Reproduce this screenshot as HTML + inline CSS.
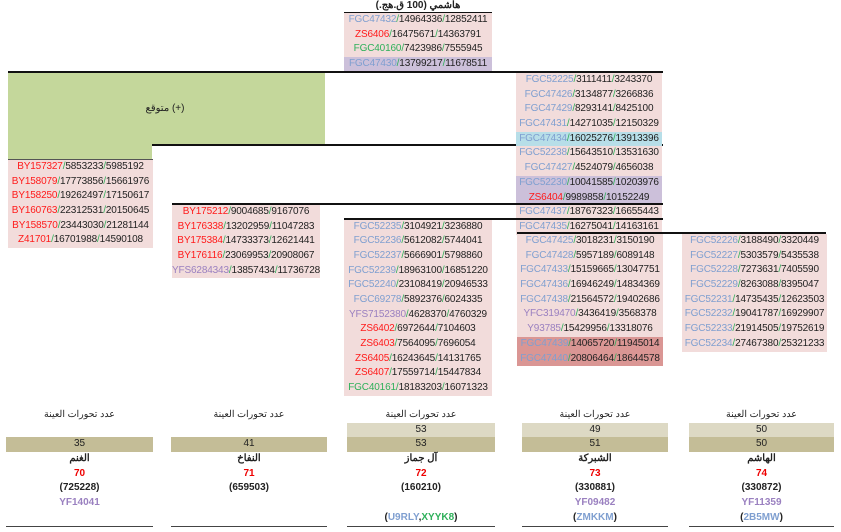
<!DOCTYPE html>
<html><head><meta charset="utf-8">
<style>
body{margin:0;width:841px;height:532px;background:#fff;position:relative;overflow:hidden;font-family:"Liberation Sans","Noto Sans CJK SC",sans-serif;font-size:10px;color:#222}
.b{position:absolute}
.r{height:14.7px;line-height:14.7px;text-align:center;white-space:nowrap;background:#f2dcdb;letter-spacing:-0.15px}
.p{background:#ccc0da}.cy{background:#b7dee8}.dk{background:#da9694}
.bl{color:#7f9fd0}.rd{color:#ff1a1a}.gr{color:#2eb05a}.pu{color:#9a80c0}
s{text-decoration:none;color:#2eb05a}
.ln{position:absolute;height:2px;background:#111}
.t{position:absolute;text-align:center;white-space:nowrap}
.bot{position:absolute;text-align:center}
.bot div{height:14.7px;line-height:14.7px}
</style></head><body>
<div class="t" style="left:344px;width:148px;top:0px;font-weight:bold">هاشمي (100 ق.هج.)</div>
<div class="ln" style="left:344px;width:148px;top:12px"></div>
<div class="b" style="left:344px;width:148px;top:13px">
<div class="r"><span class="bl">FGC47432</span><s>/</s>14964336<s>/</s>12852411</div>
<div class="r"><span class="rd">ZS6406</span><s>/</s>16475671<s>/</s>14363791</div>
<div class="r"><span class="gr">FGC40160</span><s>/</s>7423986<s>/</s>7555945</div>
<div class="r p"><span class="bl">FGC47430</span><s>/</s>13799217<s>/</s>11678511</div>
</div>
<div class="b" style="left:8px;width:317px;top:72px;height:73px;background:#c4d79b"></div>
<div class="b" style="left:8px;width:144px;top:145px;height:14px;background:#c4d79b"></div>
<div class="t" style="left:130px;width:70px;top:103px">متوقع (+)</div>
<div class="ln" style="left:8px;width:655px;top:71px"></div>
<div class="ln" style="left:152px;width:511px;top:144px"></div>
<div class="b" style="left:8px;width:145px;top:159px;height:1px;background:#555"></div>
<div class="b" style="left:516px;width:146px;top:73px">
<div class="r"><span class="bl">FGC52225</span><s>/</s>3111411<s>/</s>3243370</div>
<div class="r"><span class="bl">FGC47426</span><s>/</s>3134877<s>/</s>3266836</div>
<div class="r"><span class="bl">FGC47429</span><s>/</s>8293141<s>/</s>8425100</div>
<div class="r"><span class="bl">FGC47431</span><s>/</s>14271035<s>/</s>12150329</div>
<div class="r cy"><span class="bl">FGC47434</span><s>/</s>16025276<s>/</s>13913396</div>
<div class="r"><span class="bl">FGC52238</span><s>/</s>15643510<s>/</s>13531630</div>
<div class="r"><span class="bl">FGC47427</span><s>/</s>4524079<s>/</s>4656038</div>
<div class="r p"><span class="bl">FGC52230</span><s>/</s>10041585<s>/</s>10203976</div>
<div class="r p"><span class="rd">ZS6404</span><s>/</s>9989858<s>/</s>10152249</div>
<div class="r"><span class="bl">FGC47437</span><s>/</s>18767323<s>/</s>16655443</div>
<div class="r"><span class="bl">FGC47435</span><s>/</s>16275041<s>/</s>14163161</div>
</div>
<div class="ln" style="left:172px;width:491px;top:203px"></div>
<div class="ln" style="left:344px;width:319px;top:218px"></div>
<div class="ln" style="left:517px;width:309px;top:232px"></div>
<div class="b" style="left:8px;width:145px;top:160px">
<div class="r"><span class="rd">BY157327</span><s>/</s>5853233<s>/</s>5985192</div>
<div class="r"><span class="rd">BY158079</span><s>/</s>17773856<s>/</s>15661976</div>
<div class="r"><span class="rd">BY158250</span><s>/</s>19262497<s>/</s>17150617</div>
<div class="r"><span class="rd">BY160763</span><s>/</s>22312531<s>/</s>20150645</div>
<div class="r"><span class="rd">BY158570</span><s>/</s>23443030<s>/</s>21281144</div>
<div class="r"><span class="rd">Z41701</span><s>/</s>16701988<s>/</s>14590108</div>
</div>
<div class="b" style="left:172px;width:148px;top:205px">
<div class="r"><span class="rd">BY175212</span><s>/</s>9004685<s>/</s>9167076</div>
<div class="r"><span class="rd">BY176338</span><s>/</s>13202959<s>/</s>11047283</div>
<div class="r"><span class="rd">BY175384</span><s>/</s>14733373<s>/</s>12621441</div>
<div class="r"><span class="rd">BY176116</span><s>/</s>23069953<s>/</s>20908067</div>
<div class="r"><span class="pu">YFS6284343</span><s>/</s>13857434<s>/</s>11736728</div>
</div>
<div class="b" style="left:344px;width:148px;top:219.5px">
<div class="r"><span class="bl">FGC52235</span><s>/</s>3104921<s>/</s>3236880</div>
<div class="r"><span class="bl">FGC52236</span><s>/</s>5612082<s>/</s>5744041</div>
<div class="r"><span class="bl">FGC52237</span><s>/</s>5666901<s>/</s>5798860</div>
<div class="r"><span class="bl">FGC52239</span><s>/</s>18963100<s>/</s>16851220</div>
<div class="r"><span class="bl">FGC52240</span><s>/</s>23108419<s>/</s>20946533</div>
<div class="r"><span class="bl">FGC69278</span><s>/</s>5892376<s>/</s>6024335</div>
<div class="r"><span class="pu">YFS7152380</span><s>/</s>4628370<s>/</s>4760329</div>
<div class="r"><span class="rd">ZS6402</span><s>/</s>6972644<s>/</s>7104603</div>
<div class="r"><span class="rd">ZS6403</span><s>/</s>7564095<s>/</s>7696054</div>
<div class="r"><span class="rd">ZS6405</span><s>/</s>16243645<s>/</s>14131765</div>
<div class="r"><span class="rd">ZS6407</span><s>/</s>17559714<s>/</s>15447834</div>
<div class="r"><span class="gr">FGC40161</span><s>/</s>18183203<s>/</s>16071323</div>
</div>
<div class="b" style="left:517px;width:146px;top:234px">
<div class="r"><span class="bl">FGC47425</span><s>/</s>3018231<s>/</s>3150190</div>
<div class="r"><span class="bl">FGC47428</span><s>/</s>5957189<s>/</s>6089148</div>
<div class="r"><span class="bl">FGC47433</span><s>/</s>15159665<s>/</s>13047751</div>
<div class="r"><span class="bl">FGC47436</span><s>/</s>16946249<s>/</s>14834369</div>
<div class="r"><span class="bl">FGC47438</span><s>/</s>21564572<s>/</s>19402686</div>
<div class="r"><span class="pu">YFC319470</span><s>/</s>3436419<s>/</s>3568378</div>
<div class="r"><span class="pu">Y93785</span><s>/</s>15429956<s>/</s>13318076</div>
<div class="r dk"><span class="bl">FGC47439</span><s>/</s>14065720<s>/</s>11945014</div>
<div class="r dk"><span class="bl">FGC47440</span><s>/</s>20806464<s>/</s>18644578</div>
</div>
<div class="b" style="left:682px;width:145px;top:234px">
<div class="r"><span class="bl">FGC52226</span><s>/</s>3188490<s>/</s>3320449</div>
<div class="r"><span class="bl">FGC52227</span><s>/</s>5303579<s>/</s>5435538</div>
<div class="r"><span class="bl">FGC52228</span><s>/</s>7273631<s>/</s>7405590</div>
<div class="r"><span class="bl">FGC52229</span><s>/</s>8263088<s>/</s>8395047</div>
<div class="r"><span class="bl">FGC52231</span><s>/</s>14735435<s>/</s>12623503</div>
<div class="r"><span class="bl">FGC52232</span><s>/</s>19041787<s>/</s>16929907</div>
<div class="r"><span class="bl">FGC52233</span><s>/</s>21914505<s>/</s>19752619</div>
<div class="r"><span class="bl">FGC52234</span><s>/</s>27467380<s>/</s>25321233</div>
</div>

<div class="bot" style="left:6px;width:147px;top:408px">
<div style="font-size:9.5px">عدد تحورات العينة</div><div></div>
<div style="background:#c4bd97">35</div>
<div style="font-weight:bold">الغنم</div>
<div style="font-weight:bold;color:#e00">70</div>
<div style="font-weight:bold">(725228)</div>
<div style="font-weight:bold" class="pu">YF14041</div>
<div></div>
<div style="height:1px;background:#444"></div>
</div>
<div class="bot" style="left:171px;width:156px;top:408px">
<div style="font-size:9.5px">عدد تحورات العينة</div><div></div>
<div style="background:#c4bd97">41</div>
<div style="font-weight:bold">النفاخ</div>
<div style="font-weight:bold;color:#e00">71</div>
<div style="font-weight:bold">(659503)</div>
<div></div><div></div>
<div style="height:1px;background:#444"></div>
</div>
<div class="bot" style="left:347px;width:148px;top:408px">
<div style="font-size:9.5px">عدد تحورات العينة</div>
<div style="background:#ddd9c4">53</div>
<div style="background:#c4bd97">53</div>
<div style="font-weight:bold">آل جماز</div>
<div style="font-weight:bold;color:#e00">72</div>
<div style="font-weight:bold">(160210)</div>
<div></div>
<div style="font-weight:bold">(<span class="bl">U9RLY</span>,<span class="gr">XYYK8</span>)</div>
<div style="height:1px;background:#444"></div>
</div>
<div class="bot" style="left:522px;width:146px;top:408px">
<div style="font-size:9.5px">عدد تحورات العينة</div>
<div style="background:#ddd9c4">49</div>
<div style="background:#c4bd97">51</div>
<div style="font-weight:bold">الشبركة</div>
<div style="font-weight:bold;color:#e00">73</div>
<div style="font-weight:bold">(330881)</div>
<div style="font-weight:bold" class="pu">YF09482</div>
<div style="font-weight:bold">(<span class="bl">ZMKKM</span>)</div>
<div style="height:1px;background:#444"></div>
</div>
<div class="bot" style="left:689px;width:145px;top:408px">
<div style="font-size:9.5px">عدد تحورات العينة</div>
<div style="background:#ddd9c4">50</div>
<div style="background:#c4bd97">50</div>
<div style="font-weight:bold">الهاشم</div>
<div style="font-weight:bold;color:#e00">74</div>
<div style="font-weight:bold">(330872)</div>
<div style="font-weight:bold" class="pu">YF11359</div>
<div style="font-weight:bold">(<span class="bl">2B5MW</span>)</div>
<div style="height:1px;background:#444"></div>
</div>
</body></html>
